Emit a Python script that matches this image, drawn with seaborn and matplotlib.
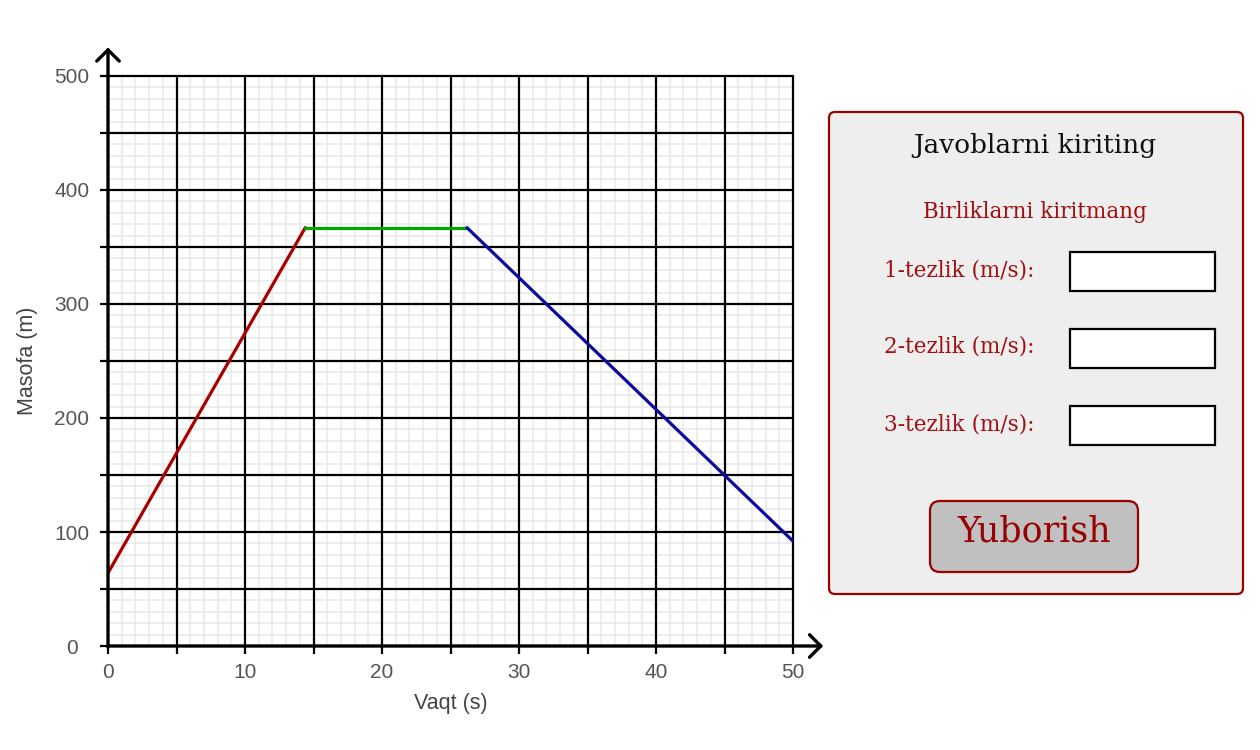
import numpy as np
import pandas as pd
import matplotlib
matplotlib.use("Agg")
import matplotlib.pyplot as plt
import seaborn as sns
from matplotlib.patches import FancyBboxPatch, Rectangle
from matplotlib.ticker import MultipleLocator, FuncFormatter

# chart data
vaqt = [0, 14.4, 26.2, 50]        # s
masofa = [64, 367, 367, 92]       # m
segment_names = ["1", "2", "3"]
segment_colors = ["#aa0000", "#00a600", "#0a0aa0"]

x_max, y_max = 50, 500
x_ticks = [0, 10, 20, 30, 40, 50]
y_ticks = [0, 100, 200, 300, 400, 500]

panel_title = "Javoblarni kiriting"
panel_note = "Birliklarni kiritmang"
field_labels = ["1-tezlik (m/s):", "2-tezlik (m/s):", "3-tezlik (m/s):"]
button_text = "Yuborish"

# one row per segment end point, so each segment gets its own colour
rows = []
for i, name in enumerate(segment_names):
    rows.append({"segment": name, "t": vaqt[i], "d": masofa[i]})
    rows.append({"segment": name, "t": vaqt[i + 1], "d": masofa[i + 1]})
df = pd.DataFrame(rows)

sns.set_theme(style="white")
plt.rcParams["font.family"] = ["Liberation Sans", "DejaVu Sans"]

W, H = 1260, 750
fig = plt.figure(figsize=(W / 100, H / 100), dpi=100)
fig.patch.set_facecolor("white")

# graph area in pixel terms
left, right, top, bottom = 108, 793, 76, 646
ax = fig.add_axes([left / W, 1 - bottom / H, (right - left) / W, (bottom - top) / H])
ax.set_xlim(0, x_max)
ax.set_ylim(0, y_max)

# graph paper: light lines every 1 s / 10 m, black every 5 s / 50 m
for v in np.arange(1, x_max, 1):
    if v % 5:
        ax.axvline(v, color="#e8e8e8", lw=1.1, zorder=0)
for v in np.arange(10, y_max, 10):
    if v % 50:
        ax.axhline(v, color="#e8e8e8", lw=1.1, zorder=0)
for v in np.arange(5, x_max + 1, 5):
    ax.axvline(v, color="black", lw=1.6, zorder=1, clip_on=False)
for v in np.arange(50, y_max + 1, 50):
    ax.axhline(v, color="black", lw=1.6, zorder=1, clip_on=False)

ax.xaxis.set_major_locator(MultipleLocator(5))
ax.yaxis.set_major_locator(MultipleLocator(50))
ax.xaxis.set_major_formatter(FuncFormatter(lambda v, p: f"{int(v)}" if int(round(v)) in x_ticks else ""))
ax.yaxis.set_major_formatter(FuncFormatter(lambda v, p: f"{int(v)}" if int(round(v)) in y_ticks else ""))
ax.tick_params(axis="x", which="major", length=6, width=1.6, color="black", direction="out",
               labelsize=15, labelcolor="#555555", pad=6, bottom=True)
ax.tick_params(axis="y", which="major", length=6, width=1.6, color="black", direction="out",
               labelsize=15, labelcolor="#555555", pad=20, left=True)
for lab in ax.get_yticklabels():
    lab.set_horizontalalignment("center")

for s in ["top", "bottom", "left", "right"]:
    ax.spines[s].set_visible(False)

sns.lineplot(data=df, x="t", y="d", hue="segment", palette=segment_colors,
             estimator=None, sort=False, legend=False, lw=2.3, ax=ax, zorder=4)

# arrowed axes
arrow = dict(arrowstyle="->,head_length=0.45,head_width=0.45", lw=2.4, color="black",
             mutation_scale=18, shrinkA=0, shrinkB=0)
ax.annotate("", xy=(0, 525), xytext=(0, -1), arrowprops=arrow, annotation_clip=False, zorder=5)
ax.annotate("", xy=(52.2, 0), xytext=(-0.05, 0), arrowprops=arrow, annotation_clip=False, zorder=5)

ax.set_xlabel("Vaqt (s)", fontsize=15.5, color="#444444", labelpad=8)
ax.set_ylabel("Masofa (m)", fontsize=15.5, color="#444444", labelpad=12)

# answer panel, drawn in pixel coordinates
pan = fig.add_axes([0, 0, 1, 1], facecolor="none")
pan.set_xlim(0, W)
pan.set_ylim(H, 0)
pan.axis("off")

pan.add_patch(FancyBboxPatch((829, 112), 414, 482, boxstyle="round,pad=0,rounding_size=6",
                             fc="#eeeeee", ec="#990000", lw=1.6))
serif = ["DejaVu Serif"]
pan.text(1035, 145, panel_title, ha="center", va="center", fontsize=19, color="#111111", family=serif)
pan.text(1035, 212, panel_note, ha="center", va="center", fontsize=15.5, color="#a01010", family=serif)

for i, lab in enumerate(field_labels):
    yc = 270 + i * 77
    pan.text(1034, yc, lab, ha="right", va="center", fontsize=15.5, color="#a01010", family=serif)
    pan.add_patch(Rectangle((1070, yc - 18), 145, 39, fc="white", ec="black", lw=1.6))

pan.add_patch(FancyBboxPatch((930, 501), 208, 71, boxstyle="round,pad=0,rounding_size=10",
                             fc="#c0c0c0", ec="#990000", lw=1.6))
pan.text(1034, 531, button_text, ha="center", va="center", fontsize=25, color="#990000", family=serif)

fig.savefig("out.png", dpi=100)
